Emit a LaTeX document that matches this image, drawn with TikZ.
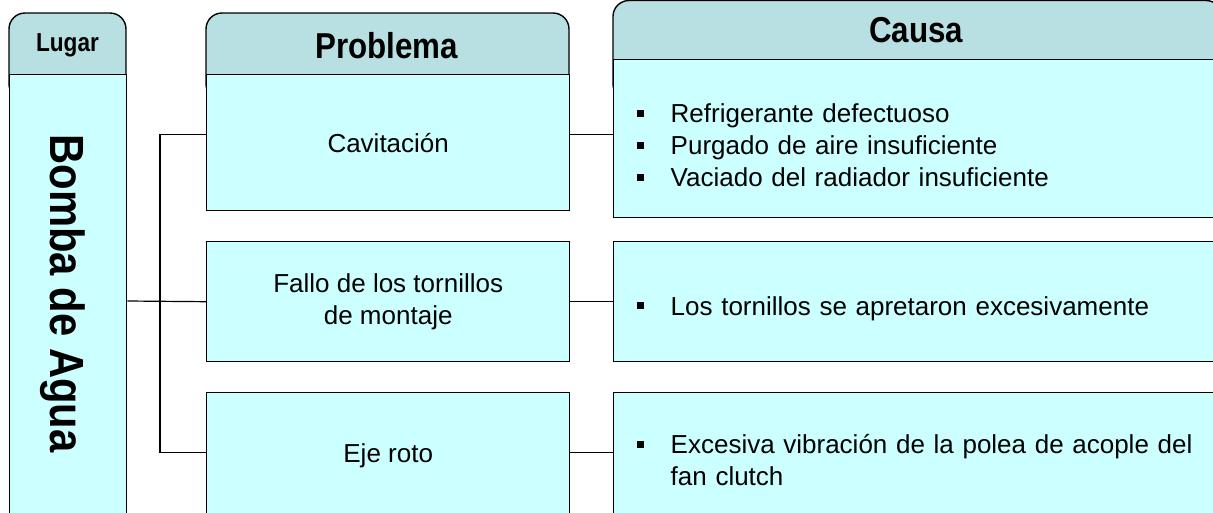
\documentclass[tikz,border=0pt]{standalone}
\usepackage{fontspec}
\setmainfont{Liberation Sans}
\newfontfamily\headfont[FakeStretch=0.87]{Liberation Sans}
\usepackage{tikz}

\definecolor{headfill}{RGB}{184,223,226}
\definecolor{bodyfill}{RGB}{204,255,255}
\newcommand{\causaitem}[1]{\par\hangindent=34pt\hangafter=1\noindent\makebox[34pt][l]{\rule[6pt]{7pt}{7pt}}#1\par}

\begin{document}
\begin{tikzpicture}[x=1pt, y=-1pt,
		head/.style={draw=black, line width=1.4pt, fill=headfill, rounded corners=16pt},
		headtext/.style={font=\headfont\bfseries\fontsize{#1}{#1}\selectfont, inner sep=0pt},
		body/.style={draw=black, line width=1.4pt, fill=bodyfill, anchor=north west, inner sep=0pt, align=center, font=\fontsize{26}{32}\selectfont},
		causabox/.style={body, text width=590pt, inner xsep=23pt, align=left},
		link/.style={line width=1.2pt}]
				\useasboundingbox (0,0) rectangle (1213,512);

				% headers (lower part hidden under the boxes)
				\filldraw[head] (9,13) rectangle (126,100);
				\filldraw[head] (206,13) rectangle (569,100);
				\filldraw[head] (613,0.5) rectangle (1222,100);
				\node[headtext=26] (lugarhead) at (67.5,45) {Lugar};
				\node[headtext=36] (probhead) at (386.5,46) {Problema};
				\node[headtext=36] (causahead) at (916,30) {Causa};

				% lugar
				\node[body, minimum width=117pt, minimum height=442pt] (lugar) at (9,74) {};
				\node[headtext=48, rotate=-90] (bomba) at (62.5,293.5) {Bomba de Agua};

				% problema
				\node[body, minimum width=363pt, minimum height=136pt] (cav) at (206,74) {Cavitación};
				\node[body, minimum width=363pt, minimum height=120pt] (fallo) at (206,241) {Fallo de los tornillos\\de montaje};
				\node[body, minimum width=363pt, minimum height=126pt] (eje) at (206,392) {Eje roto};

				% causa
				\node[causabox, minimum height=158pt] (cau1) at (613,59) {\causaitem{Refrigerante defectuoso}\causaitem{Purgado de aire insuficiente}\causaitem{Vaciado del radiador insuficiente}};
				\node[causabox, minimum height=120pt] (cau2) at (613,241) {\causaitem{Los tornillos se apretaron excesivamente}};
				\node[causabox, minimum height=122pt] (cau3) at (613,392) {\causaitem{Excesiva vibración de la polea de acople del\newline fan clutch}};

				% connectors
				\coordinate (fork) at (160,301);
				\draw[link] (lugar.east |- fork) -- (fallo.west);
				\draw[link] ([yshift=8pt]cav.west) -| (fork) |- ([yshift=3pt]eje.west);
				\draw[link] ([yshift=8pt]cav.east) -- ([yshift=8pt]cav.east -| cau1.west);
				\draw[link] (fallo.east) -- (cau2.west);
				\draw[link] ([yshift=3pt]eje.east) -- ([yshift=3pt]eje.east -| cau3.west);
			\end{tikzpicture}
\end{document}
